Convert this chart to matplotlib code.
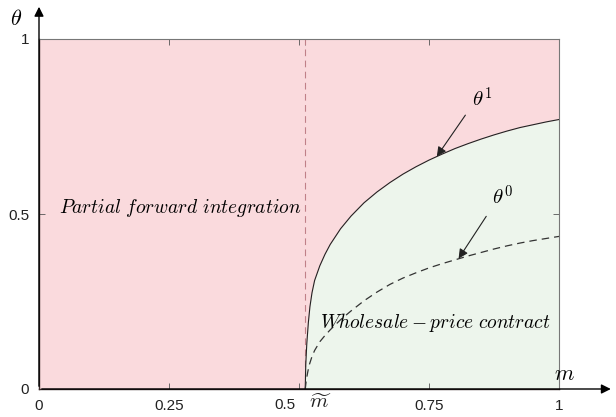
import matplotlib
matplotlib.use("Agg")
import matplotlib.pyplot as plt
import numpy as np

plt.rcParams['mathtext.fontset'] = 'cm'
plt.rcParams['font.family'] = ['Liberation Sans', 'DejaVu Sans']

m_tilde = 0.512
# theta^1 curve (upper boundary of wholesale-price region)
m1 = [0.512, 0.513, 0.515, 0.518, 0.521, 0.525, 0.53, 0.54, 0.55, 0.56, 0.58, 0.60, 0.625, 0.65,
      0.675, 0.70, 0.725, 0.75, 0.775, 0.80, 0.825, 0.85, 0.875, 0.90, 0.925, 0.95, 0.975, 1.0]
th1 = [0.0, 0.07, 0.13, 0.19, 0.235, 0.275, 0.31, 0.352, 0.385, 0.413, 0.458, 0.494, 0.532, 0.563,
       0.590, 0.614, 0.635, 0.654, 0.671, 0.687, 0.701, 0.714, 0.726, 0.737, 0.747, 0.755, 0.763, 0.77]
# theta^0 curve (dashed)
m0 = [0.512, 0.514, 0.517, 0.52, 0.525, 0.53, 0.54, 0.55, 0.56, 0.58, 0.60, 0.625, 0.65, 0.675,
      0.70, 0.725, 0.75, 0.775, 0.80, 0.825, 0.85, 0.875, 0.90, 0.925, 0.95, 0.975, 1.0]
th0 = [0.0, 0.025, 0.05, 0.07, 0.093, 0.11, 0.135, 0.153, 0.169, 0.198, 0.223, 0.252, 0.277, 0.299,
       0.317, 0.332, 0.346, 0.358, 0.369, 0.38, 0.39, 0.40, 0.409, 0.417, 0.424, 0.43, 0.436]

xticks = [0, 0.25, 0.5, 0.75, 1]
xtick_labels = ['0', '0.25', '0.5', '0.75', '1']
yticks = [0, 0.5, 1]
ytick_labels = ['0', '0.5', '1']

pink = '#fadadd'
green = '#edf5ec'

fig = plt.figure(figsize=(6.16, 4.17), dpi=100)
ax = fig.add_axes([39/616, 28/417, 520/616, 350/417])
ax.set_xlim(0, 1)
ax.set_ylim(0, 1)

ax.fill_between([0, 1], [0, 0], [1, 1], color=pink, lw=0, zorder=0)
ax.fill_between(m1, [0]*len(m1), th1, color=green, lw=0, zorder=1)
ax.plot(m1, th1, color='#222222', lw=0.8, zorder=3)
ax.plot(m0, th0, color='#333333', lw=0.9, ls=(0, (6, 4)), zorder=3)
ax.plot([m_tilde, m_tilde], [0, 1], color='#c08088', lw=0.8, ls=(0, (6, 4)), zorder=2)

for s in ['top', 'right']:
    ax.spines[s].set_color('#777777')
    ax.spines[s].set_linewidth(0.8)
for s in ['left', 'bottom']:
    ax.spines[s].set_color('#3a2a2a')
    ax.spines[s].set_linewidth(1.0)

ax.set_xticks(xticks + [m_tilde])
ax.set_xticklabels(['0', '0.25', '', '0.75', '1', ''])
ax.set_yticks(yticks)
ax.set_yticklabels(ytick_labels)
ax.tick_params(direction='in', length=4, width=0.6, labelsize=11, colors='#555555',
               labelcolor='#222222', top=True, right=True, pad=7)

# separate labels for 0.5 and m tilde
ax.text(0.473, -0.047, xtick_labels[2], ha='center', va='center', fontsize=11, color='#222222',
        clip_on=False)
ax.text(0.541, -0.04, r'$\widetilde{m}$', ha='center', va='center', fontsize=15,
        color='#222222', clip_on=False)

# axis arrows
ax.annotate('', xy=(1.105, 0), xytext=(0, 0), xycoords='data',
            arrowprops=dict(arrowstyle='-|>', color='black', lw=1.0, mutation_scale=14),
            annotation_clip=False)
ax.annotate('', xy=(0, 1.1), xytext=(0, 0), xycoords='data',
            arrowprops=dict(arrowstyle='-|>', color='black', lw=1.0, mutation_scale=14),
            annotation_clip=False)
ax.text(1.01, 0.04, r'$m$', fontsize=16, ha='center', va='center', clip_on=False)
ax.text(-0.045, 1.055, r'$\theta$', fontsize=16, ha='center', va='center', clip_on=False)

ax.text(0.271, 0.517, r'$Partial\ forward\ integration$', fontsize=14,
        ha='center', va='center', zorder=4)
ax.text(0.54, 0.19, r'$Wholesale-price\ contract$', fontsize=14,
        ha='left', va='center', zorder=4)

ax.text(0.852, 0.83, r'$\theta^1$', fontsize=15, ha='center', va='center', zorder=4)
ax.annotate('', xy=(0.762, 0.658), xytext=(0.823, 0.789),
            arrowprops=dict(arrowstyle='-|>', color='#222222', lw=0.8, mutation_scale=14),
            zorder=4)
ax.text(0.891, 0.549, r'$\theta^0$', fontsize=15, ha='center', va='center', zorder=4)
ax.annotate('', xy=(0.804, 0.366), xytext=(0.863, 0.5),
            arrowprops=dict(arrowstyle='-|>', color='#222222', lw=0.8, mutation_scale=14),
            zorder=4)

fig.savefig('out.png', dpi=100)
